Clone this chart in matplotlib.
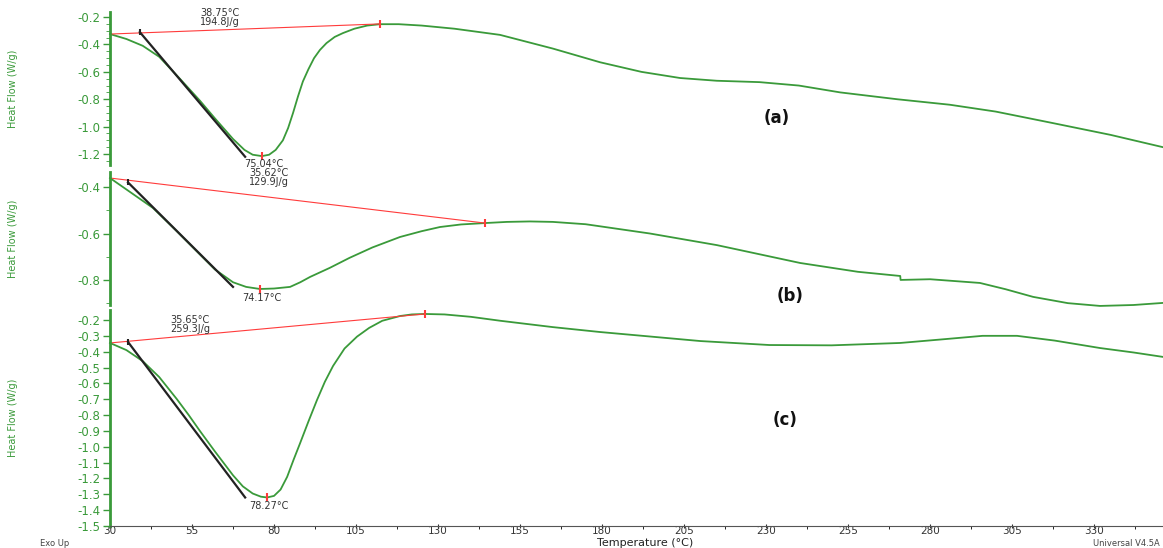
import numpy as np
import matplotlib.pyplot as plt

# DSC heat flow curves for three samples
temp_a = [30, 35, 40, 45, 51.3, 57.4, 62, 67.5, 71, 73.5, 76.3, 78.5, 80.5, 82.7, 84.3, 85.8,
          87.3, 88.8, 90.5, 92.2, 94, 96, 98.5, 101, 104.5, 108.4, 112.3, 118, 125, 135,
          148.9, 165, 179.4, 192, 203.8, 215, 228, 240, 252.6, 270, 286, 300, 316.6, 335, 351]
hf_a = [-0.324, -0.36, -0.41, -0.49, -0.65, -0.81, -0.94, -1.09, -1.17, -1.205, -1.215,
        -1.205, -1.17, -1.10, -1.01, -0.90, -0.78, -0.67, -0.58, -0.50, -0.44, -0.39, -0.345,
        -0.317, -0.285, -0.262, -0.252, -0.252, -0.262, -0.285, -0.33, -0.43, -0.53, -0.60,
        -0.645, -0.665, -0.675, -0.70, -0.75, -0.80, -0.84, -0.89, -0.97, -1.06, -1.15]

temp_b = [30, 36, 43.1, 50, 57.4, 62, 67.5, 71.5, 75.7, 80, 84.9, 88, 91, 97, 103, 110, 118.4,
          125, 130.6, 137, 144.3, 151, 158, 165, 175, 194.6, 215, 240.4, 258, 270.9, 271, 280,
          295.2, 303, 311.4, 322, 331.8, 342, 351]
hf_b = [-0.361, -0.42, -0.49, -0.585, -0.69, -0.755, -0.81, -0.83, -0.839, -0.837, -0.83,
        -0.81, -0.787, -0.748, -0.705, -0.66, -0.615, -0.59, -0.572, -0.561, -0.555, -0.55,
        -0.548, -0.55, -0.56, -0.60, -0.65, -0.727, -0.765, -0.783, -0.80, -0.797, -0.813,
        -0.84, -0.873, -0.90, -0.912, -0.908, -0.899]

temp_c = [30, 35, 40, 45, 50.4, 54, 57.4, 62, 67.5, 70.5, 73.5, 76, 77.9, 80, 82, 84, 86, 87.9,
          90.5, 93.1, 95.5, 98, 101.5, 105.3, 109, 113, 118.4, 122, 126, 132, 140, 149, 165,
          179.4, 195, 210, 231, 250, 270.9, 285, 296, 306.5, 318, 331.8, 342, 351]
hf_c = [-0.345, -0.39, -0.46, -0.56, -0.70, -0.80, -0.90, -1.03, -1.18, -1.25, -1.295, -1.315,
        -1.32, -1.31, -1.27, -1.19, -1.08, -0.98, -0.84, -0.705, -0.59, -0.49, -0.38, -0.305,
        -0.25, -0.205, -0.175, -0.165, -0.162, -0.165, -0.18, -0.205, -0.245, -0.276, -0.305,
        -0.333, -0.358, -0.36, -0.345, -0.32, -0.30, -0.30, -0.33, -0.377, -0.405, -0.433]

# baseline ends, tangent ends, peak minima and annotation texts
base_a = ([30, 112.3], [-0.324, -0.25])
tang_a = ([39.1, 71.2], [-0.31, -1.22])
peak_a = (76.3, -1.215)
onset_a, enth_a, peakt_a = '38.75°C', '194.8J/g', '75.04°C'

base_b = ([30, 144.3], [-0.361, -0.555])
tang_b = ([35.5, 67.5], [-0.38, -0.83])
peak_b = (75.7, -0.839)
onset_b, enth_b, peakt_b = '35.62°C', '129.9J/g', '74.17°C'

base_c = ([30, 126], [-0.345, -0.162])
tang_c = ([35.5, 71.2], [-0.339, -1.32])
peak_c = (77.9, -1.32)
onset_c, enth_c, peakt_c = '35.65°C', '259.3J/g', '78.27°C'

xticks = list(range(30, 331, 25))

GREEN = '#3a9a3a'
RED = '#ff3b3b'
TXT = '#333333'

fig = plt.figure(figsize=(11.63, 5.48), dpi=100)
W, H = 1163, 548


def make_ax(top, bottom):
    left = 110 / W
    return fig.add_axes([left, 1 - bottom / H, 1 - left, (bottom - top) / H])


def draw_panel(ax, t, hf, base, tang, peak, onset, enth, peakt, ylim, major, minor,
               txt_xy, peak_txt_dy, tag, tag_xy):
    ax.plot(t, hf, color=GREEN, lw=1.3, clip_on=False)
    ax.plot(base[0], base[1], color=RED, lw=0.8)
    ax.plot(tang[0], tang[1], color='#222222', lw=1.6)
    ax.plot([base[0][1]], [base[1][1]], marker='|', color=RED, ms=6, mew=1.5)
    ax.plot([peak[0]], [peak[1]], marker='|', color=RED, ms=6, mew=1.5)
    ax.plot([tang[0][0]], [tang[1][0]], marker='|', color='#222222', ms=5, mew=1.5)
    ax.text(txt_xy[0], txt_xy[1], onset + '\n' + enth, fontsize=7, color=TXT,
            linespacing=0.85, va='bottom')
    ax.text(peak[0] + 0.5, peak[1] + peak_txt_dy, peakt, fontsize=7, color=TXT,
            ha='center', va='top')
    ax.text(tag_xy[0], tag_xy[1], tag, fontsize=12, fontweight='bold', color='#111111',
            ha='center', va='center', transform=ax.transAxes)
    ax.set_xlim(30, 351)
    ax.set_ylim(*ylim)
    ax.set_yticks(major)
    ax.set_yticks(minor, minor=True)
    ax.set_yticklabels(['%.1f' % v for v in major])
    ax.patch.set_alpha(0)
    for s in ['top', 'right', 'bottom']:
        ax.spines[s].set_visible(False)
    ax.spines['left'].set_color(GREEN)
    ax.spines['left'].set_linewidth(2)
    ax.tick_params(axis='y', colors=GREEN, labelsize=8.5, length=5, width=1, pad=2)
    ax.tick_params(axis='y', which='minor', colors=GREEN, length=3)
    ax.set_ylabel('Heat Flow (W/g)', color=GREEN, fontsize=7)
    ax.yaxis.set_label_coords(-92 / 1053, 0.5)


ax_a = make_ax(12, 165)
draw_panel(ax_a, temp_a, hf_a, base_a, tang_a, peak_a, onset_a, enth_a, peakt_a,
           (-1.28, -0.163), np.arange(-1.2, -0.19, 0.2), np.arange(-1.25, -0.16, 0.05),
           (57.5, -0.272), -0.02, '(a)', (0.633, 0.31))
ax_a.set_xticks([])

ax_b = make_ax(172, 305)
draw_panel(ax_b, temp_b, hf_b, base_b, tang_b, peak_b, onset_b, enth_b, peakt_b,
           (-0.908, -0.335), np.arange(-0.8, -0.39, 0.2), np.arange(-0.9, -0.34, 0.1),
           (72.5, -0.4), -0.018, '(b)', (0.646, 0.07))
ax_b.set_xticks([])

ax_c = make_ax(310, 526)
draw_panel(ax_c, temp_c, hf_c, base_c, tang_c, peak_c, onset_c, enth_c, peakt_c,
           (-1.5, -0.137), np.arange(-1.5, -0.15, 0.1), [],
           (48.5, -0.29), -0.025, '(c)', (0.641, 0.49))
ax_c.spines['bottom'].set_visible(True)
ax_c.spines['bottom'].set_color('#555555')
ax_c.set_xticks(xticks)
ax_c.set_xticks(np.arange(42.5, 351, 25), minor=True)
ax_c.tick_params(axis='x', colors='#333333', labelsize=7.5, length=3, direction='inout',
                 pad=-1.5)
ax_c.tick_params(axis='x', which='minor', length=2)

# axis title and instrument notes along the bottom edge
fig.text(645 / W, 0.2 / H, 'Temperature (°C)', fontsize=8, color='#222222',
         ha='center', va='bottom')
fig.text(40 / W, 1 - 543 / H, 'Exo Up', fontsize=6, color='#444444', va='center')
fig.text(1160 / W, 1 - 544 / H, 'Universal V4.5A', fontsize=6, color='#444444',
         va='center', ha='right')

fig.savefig('out.png', dpi=100)
